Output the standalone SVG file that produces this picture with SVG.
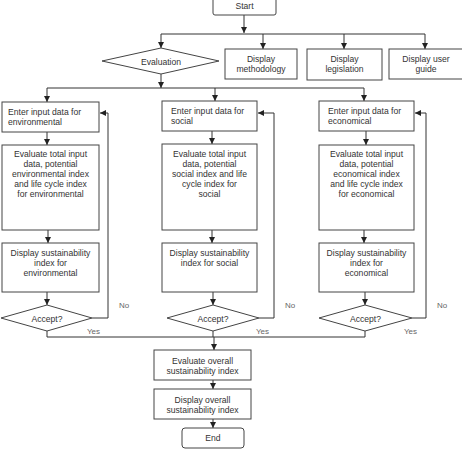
<svg xmlns="http://www.w3.org/2000/svg" width="462" height="450" viewBox="0 0 462 450">
<defs>
<marker id="ah" markerWidth="7" markerHeight="7" refX="6" refY="3" orient="auto" markerUnits="userSpaceOnUse">
<path d="M0,0 L6,3 L0,6 z" fill="#222"/>
</marker>
<style>
.b{fill:#fff;stroke:#444;stroke-width:1}
.t{font-family:"Liberation Sans",Arial,sans-serif;font-size:8.6px;fill:#333;text-anchor:middle}
.l{text-anchor:start}
.c{fill:none;stroke:#333;stroke-width:1}
.a{marker-end:url(#ah)}
.y{font-family:"Liberation Sans",Arial,sans-serif;font-size:8px;fill:#666}
</style>
</defs>
<rect width="462" height="450" fill="#fff"/>
<g id="connectors">
<line class="c a" x1="244" y1="15" x2="244" y2="33"/>
<line class="c" x1="161" y1="34" x2="425" y2="34"/>
<line class="c a" x1="161" y1="34" x2="161" y2="48"/>
<line class="c a" x1="263" y1="34" x2="263" y2="49"/>
<line class="c a" x1="344" y1="34" x2="344" y2="49"/>
<line class="c a" x1="425" y1="34" x2="425" y2="49"/>
<line class="c a" x1="161" y1="74" x2="161" y2="88"/>
<line class="c" x1="47" y1="88" x2="364" y2="88"/>
<line class="c a" x1="47" y1="88" x2="47" y2="102"/>
<line class="c a" x1="215" y1="88" x2="215" y2="101"/>
<line class="c a" x1="364" y1="88" x2="364" y2="101"/>
<line class="c a" x1="47" y1="132" x2="47" y2="145"/>
<line class="c a" x1="48" y1="230" x2="48" y2="243"/>
<line class="c a" x1="47" y1="292" x2="47" y2="305"/>
<line class="c a" x1="212" y1="131" x2="212" y2="144"/>
<line class="c a" x1="212" y1="230" x2="212" y2="243"/>
<line class="c a" x1="213" y1="292" x2="213" y2="305"/>
<line class="c a" x1="366" y1="131" x2="366" y2="145"/>
<line class="c a" x1="364" y1="230" x2="364" y2="243"/>
<line class="c a" x1="365" y1="292" x2="365" y2="305"/>
<polyline class="c a" points="92,318 108,318 108,113 100,113"/>
<polyline class="c a" points="259,318 274,318 274,113 258,113"/>
<polyline class="c a" points="412,318 426,318 426,113 415,113"/>
<polyline class="c" points="47,331 47,337 365,337 365,331"/>
<line class="c" x1="213" y1="331" x2="213" y2="337"/>
<line class="c a" x1="214" y1="337" x2="214" y2="350"/>
<line class="c a" x1="213" y1="380" x2="213" y2="389"/>
<line class="c a" x1="213" y1="419" x2="213" y2="428"/>
<text class="y" x="119" y="308">No</text>
<text class="y" x="285" y="308">No</text>
<text class="y" x="437" y="308">No</text>
<text class="y" x="87" y="334">Yes</text>
<text class="y" x="256" y="334">Yes</text>
<text class="y" x="404" y="334">Yes</text>
</g>
<g id="start"><rect class="b" x="213" y="-3" width="63" height="18" rx="2"/><text class="t" x="244.5" y="9">Start</text></g>
<g id="evaluation"><polygon class="b" points="102,61 161,48 219,61 161,74"/><text class="t" x="161" y="65">Evaluation</text></g>
<g id="methodology"><rect class="b" x="225" y="49" width="72" height="30"/><text class="t" x="261" y="62">Display</text><text class="t" x="261" y="72">methodology</text></g>
<g id="legislation"><rect class="b" x="307" y="49" width="75" height="31"/><text class="t" x="344.5" y="62">Display</text><text class="t" x="344.5" y="72">legislation</text></g>
<g id="userguide"><rect class="b" x="389" y="49" width="75" height="30"/><text class="t" x="426" y="62">Display user</text><text class="t" x="426" y="72">guide</text></g>

<g id="env-input"><rect class="b" x="2" y="102" width="97" height="30"/><text class="t l" x="8" y="115">Enter input data for</text><text class="t l" x="8" y="125">environmental</text></g>
<g id="env-eval"><rect class="b" x="2" y="145" width="97" height="85"/><text class="t" x="50.5" y="157">Evaluate total input</text><text class="t" x="50.5" y="167">data, potential</text><text class="t" x="50.5" y="177">environmental index</text><text class="t" x="50.5" y="187">and life cycle index</text><text class="t" x="50.5" y="197">for environmental</text></g>
<g id="env-display"><rect class="b" x="2" y="243" width="97" height="49"/><text class="t" x="50.5" y="256">Display sustainability</text><text class="t" x="50.5" y="266">index for</text><text class="t" x="50.5" y="276">environmental</text></g>
<g id="env-accept"><polygon class="b" points="1,318 47,305 92,318 47,331"/><text class="t" x="47" y="322">Accept?</text></g>

<g id="soc-input"><rect class="b" x="162" y="101" width="95" height="30"/><text class="t l" x="171" y="114">Enter input data for</text><text class="t l" x="171" y="124">social</text></g>
<g id="soc-eval"><rect class="b" x="162" y="144" width="95" height="86"/><text class="t" x="209.5" y="157">Evaluate total input</text><text class="t" x="209.5" y="167">data, potential</text><text class="t" x="209.5" y="177">social index and life</text><text class="t" x="209.5" y="187">cycle index for</text><text class="t" x="209.5" y="197">social</text></g>
<g id="soc-display"><rect class="b" x="162" y="243" width="95" height="49"/><text class="t" x="209.5" y="256">Display sustainability</text><text class="t" x="209.5" y="266">index for social</text></g>
<g id="soc-accept"><polygon class="b" points="167,318 213,305 259,318 213,331"/><text class="t" x="213" y="322">Accept?</text></g>

<g id="eco-input"><rect class="b" x="319" y="101" width="95" height="30"/><text class="t l" x="328" y="114">Enter input data for</text><text class="t l" x="328" y="124">economical</text></g>
<g id="eco-eval"><rect class="b" x="319" y="145" width="95" height="85"/><text class="t" x="366.5" y="157">Evaluate total input</text><text class="t" x="366.5" y="167">data, potential</text><text class="t" x="366.5" y="177">economical index</text><text class="t" x="366.5" y="187">and life cycle index</text><text class="t" x="366.5" y="197">for economical</text></g>
<g id="eco-display"><rect class="b" x="319" y="243" width="95" height="49"/><text class="t" x="366.5" y="256">Display sustainability</text><text class="t" x="366.5" y="266">index for</text><text class="t" x="366.5" y="276">economical</text></g>
<g id="eco-accept"><polygon class="b" points="319,318 365,305 412,318 365,331"/><text class="t" x="365.5" y="322">Accept?</text></g>

<g id="overall-eval"><rect class="b" x="154" y="350" width="97" height="30"/><text class="t" x="202.5" y="364">Evaluate overall</text><text class="t" x="202.5" y="374">sustainability index</text></g>
<g id="overall-display"><rect class="b" x="154" y="389" width="97" height="30"/><text class="t" x="202.5" y="403">Display overall</text><text class="t" x="202.5" y="413">sustainability index</text></g>
<g id="end"><rect class="b" x="182" y="428" width="62" height="20" rx="3"/><text class="t" x="213" y="441">End</text></g>
</svg>
